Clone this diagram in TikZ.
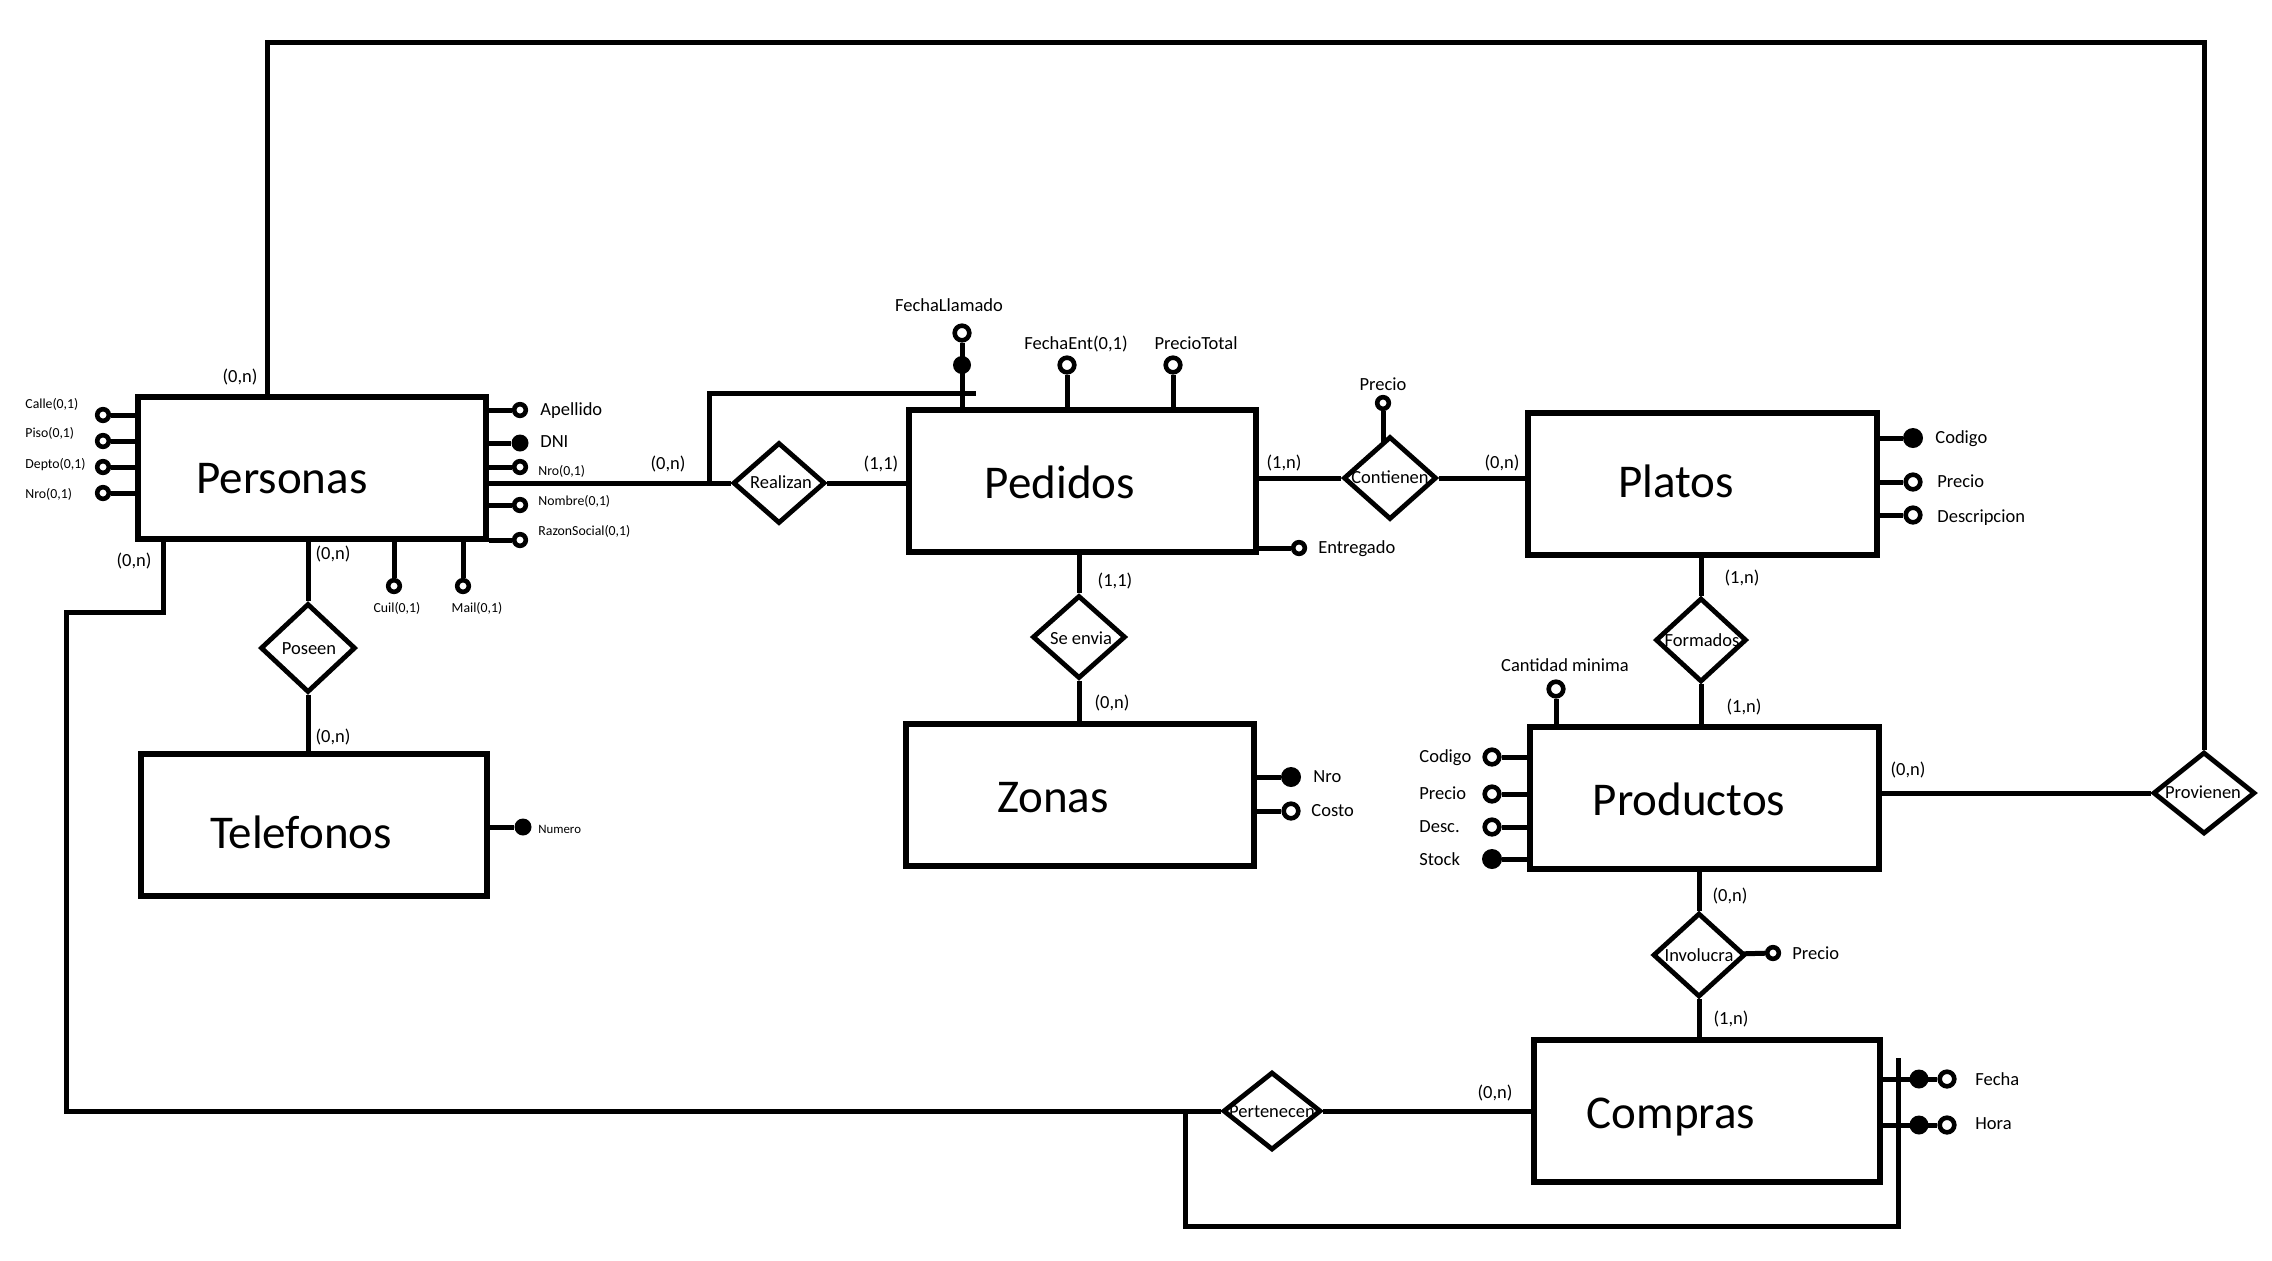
\documentclass[tikz,border=0pt]{standalone}
\usepackage{fontspec}
\setmainfont{Carlito}
\usetikzlibrary{shapes.geometric}
\pgfdeclarelayer{bg}
\pgfsetlayers{bg,main}

\tikzset{
  ent/.style={draw, fill=white, line width=2.7pt, rectangle, inner sep=0pt},
  rel/.style={draw, fill=white, line width=2.4pt, diamond, inner sep=0pt},
  conn/.style={line width=2.5pt},
  oatt/.style={circle, draw, fill=white, line width=2.3pt, inner sep=0pt, minimum size=5.8pt},
  oattL/.style={oatt, minimum size=7.3pt},
  fatt/.style={circle, fill=black, inner sep=0pt, minimum size=8.5pt},
  fattL/.style={fatt, minimum size=10pt},
  etext/.style={font=\fontsize{23.5}{28}\selectfont, anchor=base, inner sep=0pt},
  mtext/.style={font=\fontsize{9.25}{11}\selectfont, inner sep=0pt, anchor=mid},
  stext/.style={font=\fontsize{6.9}{8}\selectfont, inner sep=0pt, anchor=mid},
}

\begin{document}
\begin{tikzpicture}[x=0.5pt, y=-0.5pt]
\useasboundingbox (0,0) rectangle (2272,1260);

% ---------- entities ----------
\node[ent, minimum width=348*0.5pt, minimum height=142*0.5pt] (personas)  at (312,468) {};
\node[ent, minimum width=346*0.5pt, minimum height=142*0.5pt] (telefonos) at (314,825) {};
\node[ent, minimum width=347*0.5pt, minimum height=142*0.5pt] (pedidos)   at (1082.5,481) {};
\node[ent, minimum width=348*0.5pt, minimum height=142*0.5pt] (zonas)     at (1080,795) {};
\node[ent, minimum width=349*0.5pt, minimum height=142*0.5pt] (platos)    at (1702.5,484) {};
\node[ent, minimum width=349*0.5pt, minimum height=142*0.5pt] (productos) at (1704.5,798) {};
\node[ent, minimum width=346*0.5pt, minimum height=142*0.5pt] (compras)   at (1707,1111) {};

\node[etext] (personasT)  at (282,493)  {Personas};
\node[etext] (telefonosT) at (301,848)  {Telefonos};
\node[etext] (pedidosT)   at (1060,498) {Pedidos};
\node[etext] (zonasT)     at (1053,812) {Zonas};
\node[etext] (platosT)    at (1676,497) {Platos};
\node[etext] (productosT) at (1689,815) {Productos};
\node[etext] (comprasT)   at (1671,1128) {Compras};

% ---------- relationships ----------
\node[rel, minimum width=95*0.5pt,  minimum height=89*0.5pt] (poseen)     at (308,648) {};
\node[rel, minimum width=92*0.5pt,  minimum height=81*0.5pt] (realizan)   at (779,483) {};
\node[rel, minimum width=93*0.5pt,  minimum height=83*0.5pt] (seenvia)    at (1079,637) {};
\node[rel, minimum width=93*0.5pt,  minimum height=83*0.5pt] (contienen)  at (1390,478) {};
\node[rel, minimum width=91*0.5pt,  minimum height=84*0.5pt] (formados)   at (1701,640) {};
\node[rel, minimum width=102*0.5pt, minimum height=82*0.5pt] (provienen)  at (2204,793) {};
\node[rel, minimum width=92*0.5pt,  minimum height=84*0.5pt] (involucra)  at (1699,955) {};
\node[rel, minimum width=98*0.5pt,  minimum height=78*0.5pt] (pertenecen) at (1272,1111) {};

\node[mtext] (poseenT)     at (309,650)   {Poseen};
\node[mtext] (realizanT)   at (781,484)   {Realizan};
\node[mtext] (seenviaT)    at (1081,640)  {Se envia};
\node[mtext] (contienenT)  at (1390,479)  {Contienen};
\node[mtext] (formadosT)   at (1702,642)  {Formados};
\node[mtext] (provienenT)  at (2203,794)  {Provienen};
\node[mtext] (involucraT)  at (1699,957)  {Involucra};
\node[mtext] (pertenecenT) at (1272,1113) {Pertenecen};

% ---------- bend points of the long connectors ----------
\coordinate (topL)  at (267,42);
\coordinate (topR)  at (2204,42);
\coordinate (perA)  at (163,612);
\coordinate (perB)  at (66,612);
\coordinate (perC)  at (66,1111);
\coordinate (brA)   at (709,483);
\coordinate (brB)   at (976,393);
\coordinate (loopA) at (1185,1111);
\coordinate (loopB) at (1898,1226);
\coordinate (loopC) at (1898,1058);

% ---------- attributes: Personas ----------
\node[oatt] (calle) at (103,415) {};
\node[oatt] (piso)  at (103,441) {};
\node[oatt] (depto) at (103,467) {};
\node[oatt] (nroL)  at (103,493) {};
\node[oatt] (apellido) at (520,410) {};
\node[fatt] (dni)      at (520,443) {};
\node[oatt] (nroR)     at (520,467) {};
\node[oatt] (nombre)   at (520,505) {};
\node[oatt] (razon)    at (520,540) {};
\node[oatt] (cuil)     at (394,586) {};
\node[oatt] (mail)     at (463,586) {};

\node[stext, anchor=mid west] (calleT) at (25,404) {Calle(0,1)};
\node[stext, anchor=mid west] (pisoT)  at (25,433) {Piso(0,1)};
\node[stext, anchor=mid west] (deptoT) at (25,464) {Depto(0,1)};
\node[stext, anchor=mid west] (nroLT)  at (25,494) {Nro(0,1)};
\node[mtext, anchor=mid west] (apellidoT) at (540,411) {Apellido};
\node[mtext, anchor=mid west] (dniT)      at (540,443) {DNI};
\node[stext, anchor=mid west] (nroRT)     at (538,471) {Nro(0,1)};
\node[stext, anchor=mid west] (nombreT)   at (538,501) {Nombre(0,1)};
\node[stext, anchor=mid west] (razonT)    at (538,531) {RazonSocial(0,1)};
\node[stext] (cuilT) at (397,608) {Cuil(0,1)};
\node[stext] (mailT) at (477,608) {Mail(0,1)};

% ---------- attributes: Telefonos ----------
\node[fatt] (numero) at (523,827) {};
\node[stext, anchor=mid west, font=\fontsize{6.4}{8}\selectfont] (numeroT) at (538,829) {Numero};

% ---------- attributes: Pedidos ----------
\node[oattL] (fllO)    at (962,333) {};
\node[fattL, minimum size=9pt] (fllF) at (962,365) {};
\node[oattL] (fent)    at (1067,365) {};
\node[oattL] (ptotal)  at (1173,365) {};
\node[oatt]  (entreg)  at (1299,548) {};
\node[mtext] (fllT)    at (949,307)  {FechaLlamado};
\node[mtext] (fentT)   at (1076,345) {FechaEnt(0,1)};
\node[mtext] (ptotalT) at (1196,345) {PrecioTotal};
\node[mtext, anchor=mid west] (entregT) at (1318,549) {Entregado};

% ---------- attribute of Contienen ----------
\node[oatt]  (cprecio)  at (1383,403) {};
\node[mtext] (cprecioT) at (1383,386) {Precio};

% ---------- attributes: Zonas ----------
\node[fattL] (znro)   at (1291,777) {};
\node[oattL] (zcosto) at (1291,811) {};
\node[mtext, anchor=mid west] (znroT)   at (1313,778) {Nro};
\node[mtext, anchor=mid west] (zcostoT) at (1311,812) {Costo};

% ---------- attributes: Platos ----------
\node[fattL] (pcod)  at (1913,438) {};
\node[oattL] (pprec) at (1913,482) {};
\node[oattL] (pdesc) at (1913,515) {};
\node[mtext, anchor=mid west] (pcodT)  at (1935,439) {Codigo};
\node[mtext, anchor=mid west] (pprecT) at (1937,483) {Precio};
\node[mtext, anchor=mid west] (pdescT) at (1937,518) {Descripcion};

% ---------- attribute of Formados ----------
\node[oattL] (cmin)  at (1556,689) {};
\node[mtext] (cminT) at (1565,667) {Cantidad minima};

% ---------- attributes: Productos ----------
\node[oattL] (rcod)   at (1492,757) {};
\node[oattL] (rprec)  at (1492,794) {};
\node[oattL] (rdesc)  at (1492,827) {};
\node[fattL] (rstock) at (1492,859) {};
\node[mtext, anchor=mid west] (rcodT)   at (1419,758) {Codigo};
\node[mtext, anchor=mid west] (rprecT)  at (1419,795) {Precio};
\node[mtext, anchor=mid west] (rdescT)  at (1419,828) {Desc.};
\node[mtext, anchor=mid west] (rstockT) at (1419,861) {Stock};

% ---------- attribute of Involucra ----------
\node[oatt]  (iprec)  at (1773,953) {};
\node[mtext, anchor=mid west] (iprecT) at (1792,955) {Precio};

% ---------- attributes: Compras ----------
\node[fattL, minimum size=9.5pt] (fechaF) at (1919,1079) {};
\node[oattL] (fechaO) at (1947,1079) {};
\node[fattL, minimum size=9.5pt] (horaF)  at (1919,1125) {};
\node[oattL] (horaO)  at (1947,1125) {};
\node[mtext, anchor=mid west] (fechaT) at (1975,1081) {Fecha};
\node[mtext, anchor=mid west] (horaT)  at (1975,1125) {Hora};

% ---------- cardinalities ----------
\node[mtext] (c1)  at (240,378)   {(0,n)};
\node[mtext] (c2)  at (668,465)   {(0,n)};
\node[mtext] (c3)  at (134,562)   {(0,n)};
\node[mtext] (c4)  at (333,555)   {(0,n)};
\node[mtext] (c5)  at (333,738)   {(0,n)};
\node[mtext] (c6)  at (881,465)   {(1,1)};
\node[mtext] (c7)  at (1284,464)  {(1,n)};
\node[mtext] (c8)  at (1115,582)  {(1,1)};
\node[mtext] (c9)  at (1112,704)  {(0,n)};
\node[mtext] (c10) at (1502,464)  {(0,n)};
\node[mtext] (c11) at (1742,579)  {(1,n)};
\node[mtext] (c12) at (1744,708)  {(1,n)};
\node[mtext] (c13) at (1908,771)  {(0,n)};
\node[mtext] (c14) at (1730,897)  {(0,n)};
\node[mtext] (c15) at (1731,1020) {(1,n)};
\node[mtext] (c16) at (1495,1094) {(0,n)};

% ---------- connectors (behind the shapes) ----------
\begin{pgfonlayer}{bg}
  % relationships
  \draw[conn] (personas.north -| topL) -- (topL) -- (topR) -- (provienen.north);
  \draw[conn] (personas.south -| perA) -- (perA) -- (perB) -- (perC) -- (pertenecen.west);
  \draw[conn] (personas.south -| poseen) -- (poseen.north);
  \draw[conn] (poseen.south) -- (telefonos.north -| poseen);
  \draw[conn] (personas.east |- realizan) -- (realizan.west);
  \draw[conn] (brA) |- (brB);
  \draw[conn] (realizan.east) -- (realizan -| pedidos.west);
  \draw[conn] (pedidos.east |- contienen) -- (contienen.west);
  \draw[conn] (contienen.east) -- (contienen -| platos.west);
  \draw[conn] (pedidos.south -| seenvia) -- (seenvia.north);
  \draw[conn] (seenvia.south) -- (zonas.north -| seenvia);
  \draw[conn] (platos.south -| formados) -- (formados.north);
  \draw[conn] (formados.south) -- (productos.north -| formados);
  \draw[conn] (productos.east |- provienen) -- (provienen.west);
  \draw[conn] (productos.south -| involucra) -- (involucra.north);
  \draw[conn] (involucra.south) -- (compras.north -| involucra);
  \draw[conn] (pertenecen.east) -- (pertenecen -| compras.west);
  \draw[conn] (loopA) |- (loopB) -- (loopC);
  % attribute stems
  \foreach \a in {calle,piso,depto,nroL} \draw[conn] (\a) -- (\a -| personas.west);
  \foreach \a in {apellido,dni,nroR,nombre,razon} \draw[conn] (\a) -- (\a -| personas.east);
  \foreach \a in {cuil,mail} \draw[conn] (\a) -- (\a |- personas.south);
  \draw[conn] (numero) -- (numero -| telefonos.east);
  \draw[conn] (fllO) -- (fllO |- pedidos.north);
  \foreach \a in {fent,ptotal} \draw[conn] (\a) -- (\a |- pedidos.north);
  \draw[conn] (entreg) -- (entreg -| pedidos.east);
  \draw[conn] (cprecio) -- (cprecio |- contienen.center);
  \foreach \a in {znro,zcosto} \draw[conn] (\a) -- (\a -| zonas.east);
  \foreach \a in {pcod,pprec,pdesc} \draw[conn] (\a) -- (\a -| platos.east);
  \draw[conn] (cmin) -- (cmin |- productos.north);
  \foreach \a in {rcod,rprec,rdesc,rstock} \draw[conn] (\a) -- (\a -| productos.west);
  \draw[conn] (iprec) -- (involucra.center);
  \draw[conn] (fechaO) -- (fechaO -| compras.east);
  \draw[conn] (horaO) -- (horaO -| compras.east);
\end{pgfonlayer}
\end{tikzpicture}
\end{document}
